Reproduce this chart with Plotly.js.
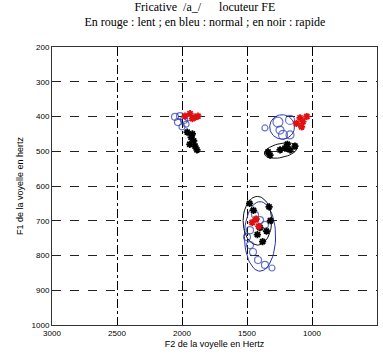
<!DOCTYPE html>
<html><head><meta charset="utf-8">
<script src="https://cdn.plot.ly/plotly-3.0.1.min.js"></script>
<style>body{margin:0;background:#fff}#c{width:383px;height:360px}</style>
</head><body><div id="c"></div>
<script>
// Data (F2 in Hz, F1 in Hz)
const blueF2 = [2054,2015,1985,2031,1969,2000,1954, 1362,1262,1169,1223,1169,1246, 1500,1477,1454,1415,1362,1308,1400,1438,1362,1477];
const blueF1 = [401,399,410,416,422,430,404, 433,416,410,453,453,439, 747,770,790,813,827,836,698,683,712,727];
const blueSize = [7,7,7,7,6,6,6, 6,10,9,9,8,8, 7,7,7,7,7,6,7,7,7,7];
const redF2 = [1977,1938,1900,1877,1920, 1120,1092,1070,1040,1080, 1460,1430,1410];
const redF1 = [399,392,402,399,406, 420,404,415,400,430, 705,695,716];
const blackF2 = [1960,1930,1910,1900,1885,1940,1920, 1323,1338,1208,1169,1131,1246,1190, 1480,1450,1400,1330,1320,1420,1380,1350];
const blackF1 = [445,460,470,485,496,480,450, 511,502,491,496,485,496,480, 650,670,720,660,700,740,760,730];
// Ellipses: centre F2, centre F1, semi-axis F2, semi-axis F1, tilt
const ellF2 = [1230, 1400, 1420, 1240];
const ellF1 = [430, 745, 700, 498];
const ellA  = [95, 120, 110, 130];
const ellB  = [35, 100, 70, 20];
const ellTilt = [0, 0, 0, 0.25];
const ellCol = ['#2233aa','#2233aa','#111111','#111111'];
const xTicks = [3000,2500,2000,1500,1000,500];
const yTicks = [200,300,400,500,600,700,800,900,1000];

const traces = [];
ellF2.forEach((c,i)=>{
  const xs=[],ys=[];
  for(let k=0;k<=60;k++){const t=k/60*2*Math.PI;
    const dx=ellA[i]*Math.cos(t), dy=ellB[i]*Math.sin(t);
    xs.push(c+dx*Math.cos(ellTilt[i]) - dy*Math.sin(ellTilt[i])*3);
    ys.push(ellF1[i]+dy*Math.cos(ellTilt[i]) + dx*Math.sin(ellTilt[i])/3);}
  traces.push({x:xs,y:ys,mode:'lines',line:{color:ellCol[i],width:1},hoverinfo:'skip'});
});
traces.push({x:blueF2,y:blueF1,mode:'markers',marker:{symbol:'circle-open',size:blueSize,color:'#2a3cb0',line:{width:1.2}}});
traces.push({x:blackF2,y:blackF1,mode:'markers',marker:{symbol:'asterisk-open',size:6,color:'#000',line:{width:1.8,color:'#000'}}});
traces.push({x:redF2,y:redF1,mode:'markers',marker:{symbol:'asterisk-open',size:6,color:'#e01010',line:{width:1.8,color:'#e01010'}}});

const layout = {
  width:383,height:360,showlegend:false,
  margin:{l:52,r:6,t:47,b:35},
  paper_bgcolor:'#fff',plot_bgcolor:'#fff',
  title:{text:'Fricative  /a_/      locuteur FE<br>En rouge : lent ; en bleu : normal ; en noir : rapide',
    font:{family:'Liberation Serif',size:12,color:'#000'},x:0.535,xanchor:'center',y:0.97,yanchor:'top'},
  xaxis:{range:[3000,500],tickvals:xTicks,ticktext:xTicks.map(String),showline:true,mirror:true,linecolor:'#333',linewidth:1,
    showgrid:true,gridcolor:'#000',griddash:'dashdot',gridwidth:1,zeroline:false,ticks:'',
    tickfont:{family:'Liberation Sans',size:8,color:'#000'},
    title:{text:'F2 de la voyelle en Hertz',font:{family:'Liberation Sans',size:9,color:'#000'},standoff:4}},
  yaxis:{range:[1000,200],tickvals:yTicks,ticktext:yTicks.map(String),showline:true,mirror:true,linecolor:'#333',linewidth:1,
    showgrid:true,gridcolor:'#222',griddash:'dash',gridwidth:1,zeroline:false,ticks:'',
    tickfont:{family:'Liberation Sans',size:8,color:'#000'},
    title:{text:'F1 de la voyelle en hertz',font:{family:'Liberation Sans',size:9,color:'#000'},standoff:6}}
};
Plotly.newPlot('c',traces,layout,{staticPlot:true});
</script></body></html>
